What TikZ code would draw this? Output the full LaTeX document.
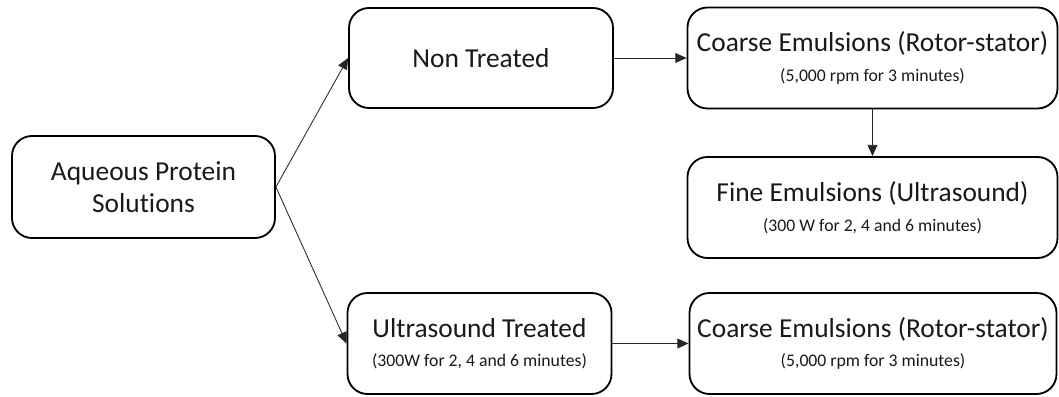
\documentclass[tikz,border=0pt]{standalone}
\usepackage{fontspec}
\setmainfont[Ligatures={NoCommon}]{Carlito}
\usetikzlibrary{arrows.meta}
\tikzset{>={Triangle[length=8pt,width=7pt]}}
\tikzset{
  stage/.style={draw, line width=1.3pt, rounded corners=0.5cm, align=center,
    inner sep=0pt, font=\fontsize{19.5}{23}\selectfont, text=black!90},
  link/.style={->, line width=0.6pt, black!85}
}
\newcommand{\subline}[1]{\\[-2pt]{\fontsize{12.6}{15}\selectfont #1}}

\begin{document}
\begin{tikzpicture}
    \useasboundingbox (0,0) rectangle (26.475,9.9);
    \node[stage, minimum width=6.575cm, minimum height=2.55cm] (aqueous) at (3.5875,5.225) {Aqueous Protein\\Solutions};
    \node[stage, minimum width=6.6cm, minimum height=2.5cm] (nontreated) at (12.025,8.45) {Non Treated};
    \node[stage, minimum width=9.25cm, minimum height=2.525cm] (coarseA) at (21.8125,8.45) {Coarse Emulsions (Rotor-stator)\subline{(5,000 rpm for 3 minutes)}};
    \node[stage, minimum width=9.25cm, minimum height=2.525cm] (fine) at (21.8125,4.7125) {Fine Emulsions (Ultrasound)\subline{(300 W for 2, 4 and 6 minutes)}};
    \node[stage, minimum width=6.6cm, minimum height=2.525cm] (ustreated) at (11.9875,1.3125) {Ultrasound Treated\subline{(300W for 2, 4 and 6 minutes)}};
    \node[stage, minimum width=9.175cm, minimum height=2.525cm] (coarseB) at (21.825,1.3125) {Coarse Emulsions (Rotor-stator)\subline{(5,000 rpm for 3 minutes)}};
    % connectors
    \draw[link] (aqueous.east) -- (nontreated.west);
    \draw[link] (aqueous.east) -- (ustreated.west);
    \draw[link] (nontreated) -- (coarseA);
    \draw[link] (coarseA) -- (fine);
    \draw[link] (ustreated) -- (coarseB);
\end{tikzpicture}
\end{document}
